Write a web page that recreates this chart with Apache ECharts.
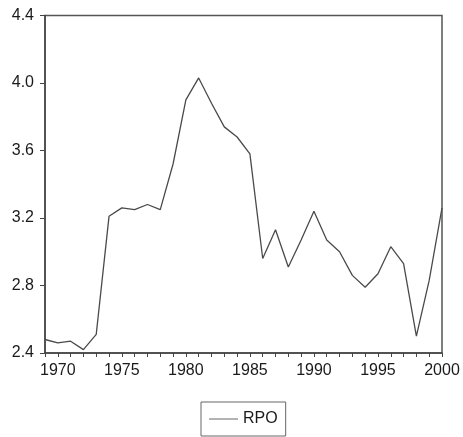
<!DOCTYPE html>
<html>
<head>
<meta charset="utf-8">
<script src="https://cdn.jsdelivr.net/npm/echarts@6/dist/echarts.min.js"></script>
<style>
html,body{margin:0;padding:0;background:#fff;}
#chart{width:463px;height:437px;}
</style>
</head>
<body>
<div id="chart"></div>
<script>
const years = [1969,1970,1971,1972,1973,1974,1975,1976,1977,1978,1979,1980,1981,1982,1983,1984,1985,1986,1987,1988,1989,1990,1991,1992,1993,1994,1995,1996,1997,1998,1999,2000];
const rpo = [2.48,2.46,2.47,2.42,2.51,3.21,3.26,3.25,3.28,3.25,3.52,3.90,4.03,3.88,3.74,3.68,3.58,2.96,3.13,2.91,3.07,3.24,3.07,3.00,2.86,2.79,2.87,3.03,2.93,2.50,2.83,3.26];
const seriesName = 'RPO';
const yTicks = [2.4, 2.8, 3.2, 3.6, 4.0, 4.4];

const chart = echarts.init(document.getElementById('chart'));
const font = 'Liberation Sans, Arial, sans-serif';
chart.setOption({
  animation: false,
  backgroundColor: '#fff',
  grid: {
    left: 45, top: 15.5, right: 21, bottom: 84,
    show: true, borderColor: '#555', borderWidth: 1.5, containLabel: false
  },
  xAxis: {
    type: 'value', min: 1969, max: 2000, interval: 1,
    axisLine: { show: true, lineStyle: { color: '#444', width: 1.5 } },
    axisTick: { show: true, length: 4, lineStyle: { color: '#444', width: 1 } },
    splitLine: { show: false },
    axisLabel: {
      margin: 10, color: '#1a1a1a', fontSize: 16, fontFamily: font,
      formatter: v => (v % 5 === 0 ? String(v) : ''),
      showMinLabel: true, showMaxLabel: true
    }
  },
  yAxis: {
    type: 'value', min: yTicks[0], max: yTicks[yTicks.length-1], interval: 0.4,
    axisLine: { show: true, lineStyle: { color: '#444', width: 1.5 } },
    axisTick: { show: true, length: 5, lineStyle: { color: '#444', width: 1 } },
    splitLine: { show: false },
    axisLabel: {
      margin: 11, color: '#1a1a1a', fontSize: 16, fontFamily: font,
      formatter: v => v.toFixed(1)
    }
  },
  legend: {
    left: 201, top: 402,
    data: [seriesName],
    borderColor: '#666', borderWidth: 1,
    padding: [9, 8, 9, 8],
    itemWidth: 29, itemHeight: 14, itemGap: 6,
    textStyle: { color: '#1a1a1a', fontSize: 16, fontFamily: font },
    icon: 'path://M0,7 L29,7 L29,8 L0,8 Z',
    itemStyle: { color: '#666' }
  },
  series: [{
    name: seriesName, type: 'line', symbol: 'none',
    data: years.map((y, i) => [y, rpo[i]]),
    lineStyle: { color: '#4a4a4a', width: 1.3 },
    itemStyle: { color: '#666' }
  }]
});
</script>
</body>
</html>
